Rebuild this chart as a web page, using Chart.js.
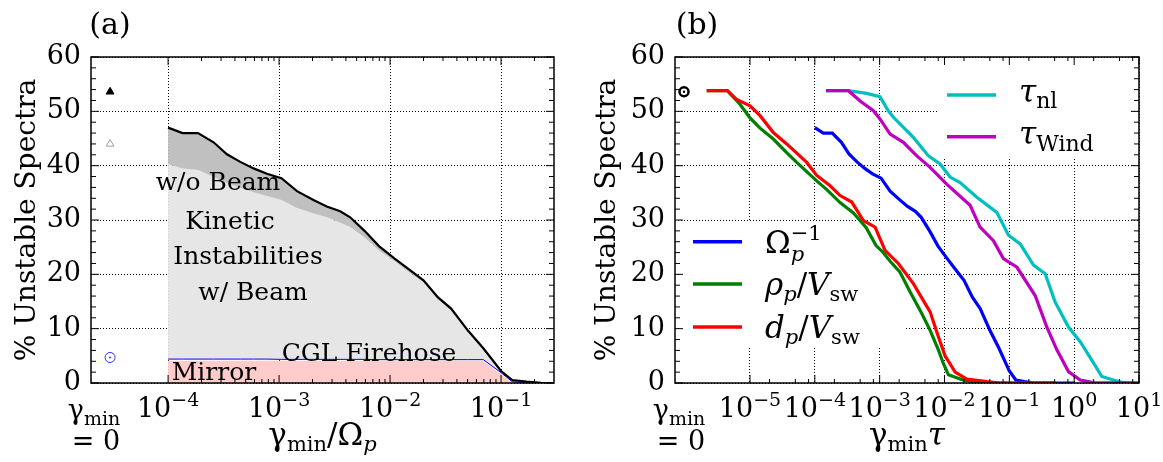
<!DOCTYPE html>
<html>
<head>
<meta charset="utf-8">
<script src="https://cdn.jsdelivr.net/npm/chart.js@4"></script>
<style>
body { margin: 0; background: #fff; }
#wrap { position: relative; width: 1163px; height: 462px; }
#chartA { position: absolute; left: 0; top: 0; }
#chartB { position: absolute; left: 580px; top: 0; }
</style>
</head>
<body>
<div id="wrap">
<canvas id="chartA" width="580" height="462"></canvas>
<canvas id="chartB" width="583" height="462"></canvas>
</div>
<script>
// (a) gamma_min / Omega_p and % of unstable spectra above it
const gammaOmega = [1.0e-4, 1.35e-4, 1.86e-4, 2.57e-4, 3.39e-4, 4.47e-4, 5.89e-4, 7.76e-4, 1.05e-3, 1.45e-3,
    2.04e-3, 2.69e-3, 3.55e-3, 4.37e-3, 5.89e-3, 7.94e-3, 1.10e-2, 1.48e-2, 2.00e-2, 2.69e-2,
    3.55e-2, 5.01e-2, 6.92e-2, 0.100, 0.126, 0.170, 0.229, 0.300, 1.0];
const withoutBeam = [47.0, 46.0, 46.0, 44.3, 42.1, 40.7, 39.5, 38.5, 37.7, 35.3,
    33.7, 32.5, 31.6, 30.5, 28.0, 25.2, 22.9, 20.9, 18.9, 15.8,
    13.7, 9.7, 6.4, 2.2, 0.55, 0.25, 0.05, 0, 0];
const withBeam = [40.3, 39.5, 39.2, 37.9, 36.8, 35.9, 35.1, 34.4, 33.7, 32.2,
    31.2, 30.5, 29.5, 28.7, 26.8, 24.4, 22.4, 20.4, 18.5, 15.4,
    13.3, 9.4, 6.1, 2.1, 0.5, 0.22, 0.04, 0, 0];
const cglFirehose = [4.4, 4.4, 4.4, 4.4, 4.4, 4.4, 4.4, 4.4, 4.35, 4.35,
    4.35, 4.35, 4.35, 4.35, 4.35, 4.3, 4.3, 4.3, 4.3, 4.3,
    4.3, 4.3, 4.3, 1.9, 0.25, 0.05, 0, 0, 0];
const mirror = [4.1, 4.1, 4.1, 4.1, 4.1, 4.1, 4.1, 4.1, 4.1, 4.1,
    4.1, 4.1, 4.1, 4.1, 4.1, 4.1, 4.1, 4.1, 4.1, 4.1,
    4.1, 4.1, 4.1, 1.6, 0.1, 0, 0, 0, 0];
// values at gamma_min = 0
const zeroPosA = 3.0e-5;
const zeroAll = 53.6;
const zeroBeam = 44.0;
const zeroFirehose = 4.7;

// (b) gamma_min * tau for the other time scales
const rhoX = [2.15e-6, 4.47e-6, 7.0e-6, 1.0e-5, 1.43e-5, 2.29e-5, 3.68e-5, 5.26e-5, 7.5e-5, 1.07e-4,
    1.53e-4, 2.45e-4, 3.94e-4, 6.2e-4, 8.8e-4, 1.1e-3, 1.45e-3, 2.06e-3, 2.94e-3, 4.46e-3,
    6.0e-3, 8.05e-3, 9.6e-3, 1.15e-2, 1.96e-2, 3.54e-2, 7.2e-2, 0.5];
const rhoY = [53.8, 53.8, 51.3, 48.8, 46.9, 44.9, 42.4, 40.6, 38.9, 37.2,
    35.6, 33.2, 31.3, 28.6, 25.3, 24.2, 22.4, 20.4, 16.8, 12.8,
    9.7, 6.1, 3.6, 1.5, 0.5, 0.1, 0, 0];
const dpX = [2.15e-6, 4.47e-6, 6.2e-6, 1.0e-5, 1.43e-5, 2.29e-5, 3.68e-5, 5.26e-5, 7.5e-5, 1.07e-4,
    1.72e-4, 2.45e-4, 3.71e-4, 5.6e-4, 8.5e-4, 1.21e-3, 1.94e-3, 3.31e-3, 6.0e-3, 8.05e-3,
    1.02e-2, 1.46e-2, 2.21e-2, 4.5e-2, 7.2e-2, 0.51];
const dpY = [53.8, 53.8, 52.2, 51.0, 49.2, 46.1, 44.0, 42.3, 40.6, 38.2,
    36.3, 34.5, 33.3, 29.9, 28.7, 24.4, 22.0, 18.3, 13.1, 8.5,
    5.0, 2.0, 0.7, 0.24, 0, 0];
const nlX = [1.49e-4, 3.29e-4, 6.3e-4, 1.01e-3, 1.36e-3, 1.63e-3, 3.31e-3, 5.65e-3, 8.55e-3, 1.22e-2,
    1.74e-2, 3.15e-2, 6.41e-2, 9.7e-2, 0.147, 0.236, 0.357, 0.509, 0.817, 1.24,
    1.87, 2.67, 4.04, 5.76, 10];
const nlY = [53.8, 53.8, 53.3, 52.7, 50.1, 48.9, 45.2, 41.8, 40.3, 37.9,
    36.9, 34.2, 31.4, 27.2, 25.6, 21.7, 20.1, 14.9, 10.3, 7.6,
    4.2, 1.2, 0.55, 0.06, 0];
const windX = [1.49e-4, 3.29e-4, 4.99e-4, 8.0e-4, 1.01e-3, 1.45e-3, 2.32e-3, 3.74e-3, 6.0e-3, 1.08e-2,
    2.48e-2, 3.54e-2, 5.68e-2, 8.1e-2, 0.131, 0.25, 0.379, 0.541, 0.817, 1.24,
    1.99, 10];
const windY = [53.8, 53.8, 51.9, 50.1, 48.6, 45.8, 44.3, 41.8, 39.7, 36.6,
    32.7, 28.7, 26.2, 22.9, 21.3, 16.1, 10.3, 6.1, 2.1, 0.55,
    0.06, 0];
const zeroPosB = 9.6e-7;

const yTicks = [0, 10, 20, 30, 40, 50, 60];
const decadesA = [1e-4, 1e-3, 1e-2, 1e-1];
const decadesB = [1e-5, 1e-4, 1e-3, 1e-2, 1e-1, 1e0, 1e1];

const serif = '"DejaVu Serif", serif';
Chart.defaults.font.family = serif;
Chart.defaults.color = '#000';

const pts = (xs, ys) => xs.map((x, i) => ({ x: x, y: ys[i] }));
const font = (size, italic) => (italic ? 'italic ' : '') + size + 'px ' + serif;

// parts: [text, size, dy, italic, stackOnPrevious]
function drawMath(ctx, parts, x, y, align) {
    let cx = 0, start = 0, w = 0;
    const pos = parts.map(p => {
        ctx.font = font(p[1], p[3]);
        const pw = ctx.measureText(p[0]).width;
        let px;
        if (p[4]) { px = start; cx = Math.max(cx, start + pw); }
        else { start = cx; px = cx; cx += pw; }
        w = Math.max(w, cx);
        return px;
    });
    const x0 = align === 'center' ? x - w / 2 : x;
    ctx.textAlign = 'left';
    ctx.textBaseline = 'alphabetic';
    parts.forEach((p, i) => {
        ctx.font = font(p[1], p[3]);
        ctx.fillText(p[0], x0 + pos[i], y + p[2]);
    });
}

function drawFrame(chart, decades, subs) {
    const { ctx, chartArea: a, scales: { x, y } } = chart;
    ctx.save();
    ctx.strokeStyle = '#000';
    ctx.lineWidth = 1;
    ctx.beginPath();
    const vtick = (px, len) => {
        ctx.moveTo(px, a.bottom); ctx.lineTo(px, a.bottom - len);
        ctx.moveTo(px, a.top); ctx.lineTo(px, a.top + len);
    };
    decades.forEach(d => {
        vtick(x.getPixelForValue(d), 8);
        subs.forEach(m => {
            const v = d * m;
            if (v < x.max * 0.999) vtick(x.getPixelForValue(v), 4);
        });
    });
    for (let v = 0; v <= 60; v += 2) {
        const py = y.getPixelForValue(v);
        const len = v % 10 === 0 ? 8 : 5;
        ctx.moveTo(a.left, py); ctx.lineTo(a.left + len, py);
        ctx.moveTo(a.right, py); ctx.lineTo(a.right - len, py);
    }
    ctx.stroke();
    ctx.lineWidth = 1.5;
    ctx.strokeRect(a.left, a.top, a.right - a.left, a.bottom - a.top);

    // decade labels 10^n
    ctx.fillStyle = '#000';
    decades.forEach(d => {
        const e = Math.round(Math.log10(d));
        const sup = e < 0 ? '\u2212' + (-e) : String(e);
        drawMath(ctx, [['10', 27, 0], [sup, 19, -11]], x.getPixelForValue(d), 417, 'center');
    });
    ctx.restore();
}

function drawCommon(chart, letter, letterX, zeroX, xTitle) {
    const { ctx, chartArea: a } = chart;
    ctx.save();
    ctx.fillStyle = '#000';
    drawMath(ctx, [[letter, 30, 0]], letterX, 34, 'center');
    drawMath(ctx, [['\u03b3', 27, 0], ['min', 19, 6]], zeroX, 419, 'center');
    drawMath(ctx, [['= 0', 27, 0]], zeroX + 2, 450, 'center');
    drawMath(ctx, xTitle, (a.left + a.right) / 2, 445, 'center');
    ctx.restore();
}

function baseOptions(yWidth, rightPad, xMin, xMax, decades) {
    const grid = { color: '#000', lineWidth: 1, drawTicks: false };
    const border = { display: false, dash: [1, 2] };
    return {
        responsive: false,
        animation: false,
        devicePixelRatio: 1,
        layout: { padding: { top: 57, right: rightPad, bottom: 0, left: 0 } },
        plugins: { legend: { display: false }, tooltip: { enabled: false } },
        elements: { line: { tension: 0 } },
        scales: {
            x: {
                type: 'logarithmic', min: xMin, max: xMax,
                afterBuildTicks: s => { s.ticks = decades.map(v => ({ value: v })); },
                afterFit: s => { s.height = 79; },
                ticks: { display: false },
                grid: grid, border: border
            },
            y: {
                type: 'linear', min: 0, max: 60,
                afterBuildTicks: s => { s.ticks = yTicks.map(v => ({ value: v })); },
                afterFit: s => { s.width = yWidth; },
                ticks: { font: { size: 27 }, padding: 10, color: '#000' },
                grid: grid, border: border,
                title: { display: true, text: '% Unstable Spectra', color: '#000',
                    font: { size: 28 }, padding: { top: 11, bottom: 0 } }
            }
        }
    };
}

const noPoint = { pointRadius: 0, pointHoverRadius: 0 };

new Chart(document.getElementById('chartA'), {
    type: 'line',
    data: {
        datasets: [
            { data: pts(gammaOmega, mirror), fill: 'origin', backgroundColor: '#ffcccc', borderWidth: 0, order: 6, ...noPoint },
            { data: pts(gammaOmega, cglFirehose), fill: false, borderColor: '#0000ff', borderWidth: 1, order: 4, ...noPoint },
            { data: pts(gammaOmega, withBeam), fill: 1, backgroundColor: '#e6e6e6', borderWidth: 0, order: 5, ...noPoint },
            { data: pts(gammaOmega, withoutBeam), fill: 2, backgroundColor: '#c0c0c0', borderColor: '#000', borderWidth: 2.2, order: 3, ...noPoint },
            { data: [{ x: zeroPosA, y: zeroAll }], showLine: false, pointStyle: 'triangle', pointRadius: 4.5,
              backgroundColor: '#000', borderColor: '#000', borderWidth: 1, order: 1 },
            { data: [{ x: zeroPosA, y: zeroBeam }], showLine: false, pointStyle: 'triangle', pointRadius: 4.5,
              backgroundColor: 'rgba(0,0,0,0)', borderColor: '#a0a0a0', borderWidth: 1, order: 1 },
            { data: [{ x: zeroPosA, y: zeroFirehose }], showLine: false, pointStyle: 'circle', pointRadius: 5,
              backgroundColor: 'rgba(0,0,0,0)', borderColor: '#3030ff', borderWidth: 1, order: 1 },
            { data: [{ x: zeroPosA, y: zeroFirehose }], showLine: false, pointStyle: 'circle', pointRadius: 1,
              backgroundColor: '#3030ff', borderColor: '#3030ff', borderWidth: 0, order: 1 }
        ]
    },
    options: baseOptions(91, 26, 2.02e-5, 0.3, decadesA),
    plugins: [{
        id: 'panelA',
        afterDraw(chart) {
            const ctx = chart.ctx;
            drawFrame(chart, decadesA, [2, 3, 4, 5, 6, 7, 8, 9]);
            drawCommon(chart, '(a)', 110, 94, [['\u03b3', 31, 0], ['min', 21, 6], ['/', 31, 0], ['\u03a9', 31, 0], ['p', 21, 6, true]]);
            ctx.save();
            ctx.fillStyle = '#000';
            ctx.font = font(25);
            ctx.textAlign = 'center';
            ctx.textBaseline = 'alphabetic';
            ctx.fillText('w/o Beam', 218, 190);
            ctx.fillText('Kinetic', 230, 229);
            ctx.fillText('Instabilities', 248, 264);
            ctx.fillText('w/ Beam', 253, 300);
            ctx.fillText('CGL Firehose', 369, 361);
            ctx.fillText('Mirror', 214, 380);
            ctx.restore();
        }
    }]
});

const blueB = '#0000ff', greenB = '#008000', redB = '#ff0000', cyanB = '#00bfbf', magentaB = '#bf00bf';

new Chart(document.getElementById('chartB'), {
    type: 'line',
    data: {
        datasets: [
            { data: pts(gammaOmega, withoutBeam), borderColor: blueB, borderWidth: 3.2, fill: false, order: 6, ...noPoint },
            { data: pts(rhoX, rhoY), borderColor: greenB, borderWidth: 3.2, fill: false, order: 5, ...noPoint },
            { data: pts(dpX, dpY), borderColor: redB, borderWidth: 3.2, fill: false, order: 4, ...noPoint },
            { data: pts(nlX, nlY), borderColor: cyanB, borderWidth: 3.2, fill: false, order: 3, ...noPoint },
            { data: pts(windX, windY), borderColor: magentaB, borderWidth: 3.2, fill: false, order: 2, ...noPoint },
            { data: [{ x: zeroPosB, y: zeroAll }], showLine: false, pointStyle: 'circle', pointRadius: 4.5,
              backgroundColor: 'rgba(0,0,0,0)', borderColor: '#000', borderWidth: 2.5, order: 1 },
            { data: [{ x: zeroPosB, y: zeroAll }], showLine: false, pointStyle: 'circle', pointRadius: 1.2,
              backgroundColor: '#000', borderColor: '#000', borderWidth: 0, order: 1 }
        ]
    },
    options: baseOptions(95, 24, 6.97e-7, 10, decadesB),
    plugins: [{
        id: 'panelB',
        beforeDatasetsDraw(chart) {
            // legend backgrounds hide the grid
            const ctx = chart.ctx;
            ctx.save();
            ctx.fillStyle = '#fff';
            ctx.fillRect(100, 222, 226, 126);
            ctx.fillRect(358, 60, 192, 97);
            ctx.restore();
        },
        afterDraw(chart) {
            const ctx = chart.ctx;
            drawFrame(chart, decadesB, [2, 5, 8]);
            drawCommon(chart, '(b)', 117, 99, [['\u03b3', 31, 0], ['min', 21, 6], ['\u03c4', 31, 0, true]]);
            const entries = [
                { c: blueB, x: 113, y: 241.7, parts: [['\u03a9', 31, 0], ['p', 21, 8, true], ['\u22121', 21, -13, false, true]] },
                { c: greenB, x: 113, y: 284, parts: [['\u03c1', 31, 0, true], ['p', 21, 6, true], ['/', 31, 0], ['V', 31, 0, true], ['sw', 21, 6]] },
                { c: redB, x: 113, y: 327, parts: [['d', 31, 0, true], ['p', 21, 6, true], ['/', 31, 0], ['V', 31, 0, true], ['sw', 21, 6]] },
                { c: cyanB, x: 367, y: 95, parts: [['\u03c4', 31, 0, true], ['nl', 22, 6]] },
                { c: magentaB, x: 367, y: 136.7, parts: [['\u03c4', 31, 0, true], ['Wind', 22, 7]] }
            ];
            ctx.save();
            entries.forEach(en => {
                ctx.strokeStyle = en.c;
                ctx.lineWidth = 3.5;
                ctx.beginPath();
                ctx.moveTo(en.x, en.y);
                ctx.lineTo(en.x + 49, en.y);
                ctx.stroke();
                ctx.fillStyle = '#000';
                drawMath(ctx, en.parts, en.x + 72, en.y + (en.x > 300 ? 7 : 11), 'left');
            });
            ctx.restore();
        }
    }]
});
</script>
</body>
</html>
